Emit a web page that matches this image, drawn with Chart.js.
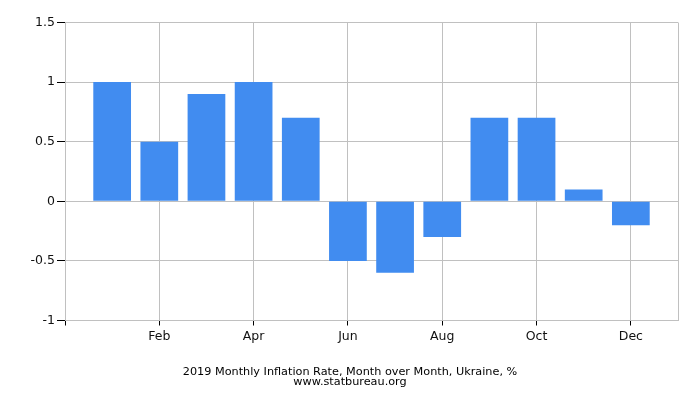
<!DOCTYPE html>
<html>
<head>
<meta charset="utf-8">
<script src="https://cdn.jsdelivr.net/npm/chart.js@4"></script>
<style>
  html, body { margin: 0; padding: 0; background: #fff; }
  #wrap { width: 700px; height: 400px; }
</style>
</head>
<body>
<div id="wrap"><canvas id="myChart"></canvas></div>
<script>
const months = ['Jan', 'Feb', 'Mar', 'Apr', 'May', 'Jun', 'Jul', 'Aug', 'Sep', 'Oct', 'Nov', 'Dec'];
const rates = [1.0, 0.5, 0.9, 1.0, 0.7, -0.5, -0.6, -0.3, 0.7, 0.7, 0.1, -0.2];
const shownMonths = ['Feb', 'Apr', 'Jun', 'Aug', 'Oct', 'Dec'];
const yTicks = [-1, -0.5, 0, 0.5, 1, 1.5];
const titleLines = ['2019 Monthly Inflation Rate, Month over Month, Ukraine, %', 'www.statbureau.org'];

const points = months.map(function (m, i) {
    return { x: i + 1, y: rates[i] };
});

new Chart('myChart', {
    type: 'bar',
    data: {
        datasets: [{
            data: points,
            backgroundColor: '#418cf0',
            borderWidth: 0,
            barPercentage: 0.8,
            categoryPercentage: 1.0
        }]
    },
    options: {
        responsive: true,
        maintainAspectRatio: false,
        animation: false,
        layout: { padding: { left: 0, right: 0, top: 22.5, bottom: 7.8 } },
        plugins: {
            legend: { display: false },
            tooltip: { enabled: false },
            title: {
                display: true,
                position: 'bottom',
                text: titleLines,
                color: '#000',
                font: { family: 'DejaVu Sans', size: 11.25, weight: 'normal', lineHeight: 0.92 },
                padding: { top: 16.5, bottom: 4.5 }
            }
        },
        scales: {
            x: {
                type: 'linear',
                min: 0,
                max: 13,
                offset: false,
                afterBuildTicks: function (scale) {
                    const t = [{ value: 0 }];
                    shownMonths.forEach(function (m) {
                        t.push({ value: months.indexOf(m) + 1 });
                    });
                    t.push({ value: 13 });
                    scale.ticks = t;
                },
                afterFit: function (scale) { scale.height = 30; },
                grid: {
                    offset: false,
                    color: function (ctx) { return ctx.tick && ctx.tick.value === 0 ? 'transparent' : '#c0c0c0'; },
                    tickColor: function (ctx) { return ctx.tick && ctx.tick.value === 13 ? 'transparent' : '#000'; },
                    tickLength: 5,
                    lineWidth: 1
                },
                border: { color: '#c0c0c0' },
                ticks: {
                    autoSkip: false,
                    maxRotation: 0,
                    padding: 4,
                    color: '#111',
                    font: { family: 'DejaVu Sans', size: 12.5 },
                    callback: function (value) {
                        const m = months[value - 1];
                        return shownMonths.indexOf(m) >= 0 ? m : '';
                    }
                }
            },
            y: {
                min: -1,
                max: 1.5,
                afterBuildTicks: function (scale) {
                    scale.ticks = yTicks.map(function (v) { return { value: v }; });
                },
                afterFit: function (scale) { scale.width = 65; },
                grid: {
                    color: '#c0c0c0',
                    tickColor: '#000',
                    tickLength: 8,
                    lineWidth: 1
                },
                border: { color: '#c0c0c0' },
                ticks: {
                    padding: 2,
                    color: '#111',
                    font: { family: 'DejaVu Sans', size: 12.5 },
                    callback: function (value) { return String(value); }
                }
            },
            // empty right-hand axis, only to keep the right margin
            yRight: {
                position: 'right',
                min: -1,
                max: 1.5,
                afterFit: function (scale) { scale.width = 22; },
                grid: { drawOnChartArea: false, drawTicks: false },
                border: { display: false },
                ticks: { display: false }
            }
        }
    }
});
</script>
</body>
</html>
